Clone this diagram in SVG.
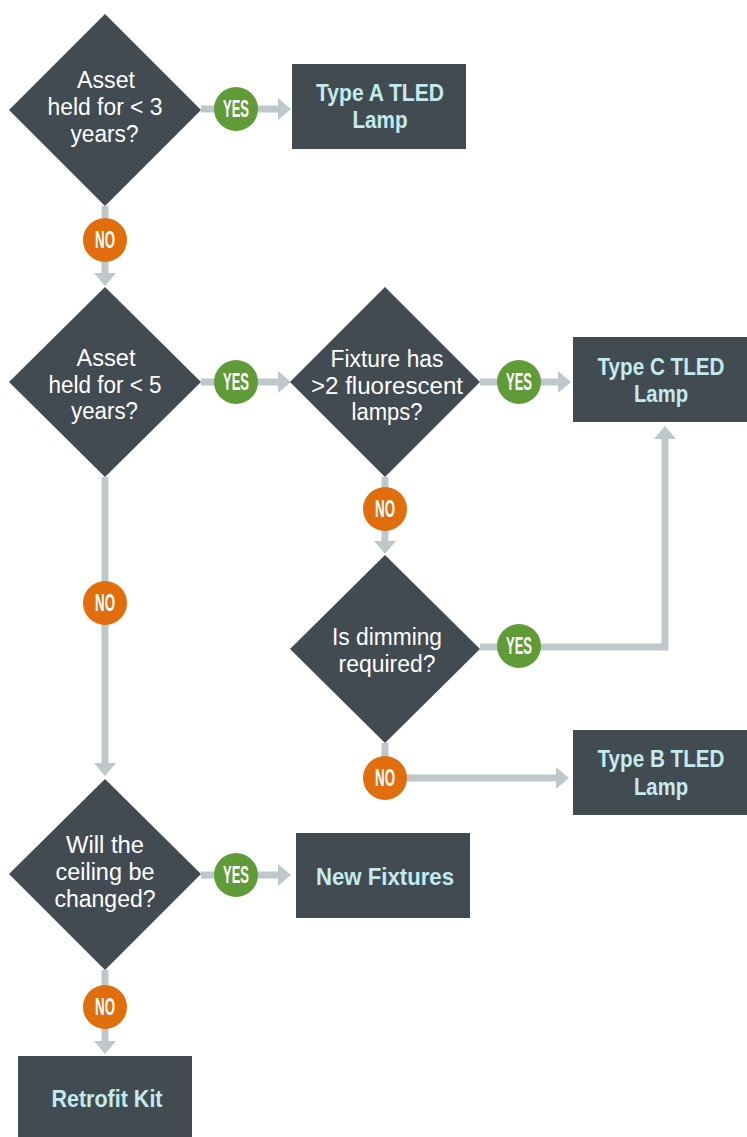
<svg xmlns="http://www.w3.org/2000/svg" width="747" height="1137" viewBox="0 0 747 1137">
<defs>
<style>
.shape{fill:#424a52}
.q{font-family:"Liberation Sans",Arial,sans-serif;font-size:23px;fill:#ffffff;text-anchor:middle}
.r{font-family:"Liberation Sans",Arial,sans-serif;font-size:24px;font-weight:bold;fill:#c3ebee;text-anchor:middle}
.ln{stroke:#bec8cb;stroke-width:7;fill:none}
.yes{fill:#5f9b36}
.no{fill:#e26d0c}
.lb{font-family:"Liberation Sans",Arial,sans-serif;font-size:23px;font-weight:bold;fill:#ffffff;text-anchor:middle}
</style>
<marker id="ah" markerUnits="userSpaceOnUse" markerWidth="13" markerHeight="22" refX="0" refY="11" orient="auto" viewBox="0 0 13 22">
<path d="M0,0 L13,11 L0,22 Z" fill="#bec8cb"/>
</marker>
</defs>
<rect width="747" height="1137" fill="#ffffff"/>

<g id="connectors">
<path class="ln" d="M201,109 H278" marker-end="url(#ah)"/>
<path class="ln" d="M105,206 V273" marker-end="url(#ah)"/>
<path class="ln" d="M201,382 H278" marker-end="url(#ah)"/>
<path class="ln" d="M480,382 H558" marker-end="url(#ah)"/>
<path class="ln" d="M385,477 V541" marker-end="url(#ah)"/>
<path class="ln" d="M480,647 H665 V439" marker-end="url(#ah)"/>
<path class="ln" d="M385,743 V778 H556" marker-end="url(#ah)"/>
<path class="ln" d="M105,477 V763" marker-end="url(#ah)"/>
<path class="ln" d="M201,875 H278" marker-end="url(#ah)"/>
<path class="ln" d="M105,970 V1041" marker-end="url(#ah)"/>
</g>

<g id="labels">
<circle class="yes" cx="236" cy="109" r="22"/><text class="lb" x="236" y="117" textLength="26" lengthAdjust="spacingAndGlyphs">YES</text>
<circle class="no" cx="105" cy="240" r="22"/><text class="lb" x="105" y="248" textLength="20" lengthAdjust="spacingAndGlyphs">NO</text>
<circle class="yes" cx="236" cy="382" r="22"/><text class="lb" x="236" y="390" textLength="26" lengthAdjust="spacingAndGlyphs">YES</text>
<circle class="no" cx="105" cy="603" r="22"/><text class="lb" x="105" y="611" textLength="20" lengthAdjust="spacingAndGlyphs">NO</text>
<circle class="yes" cx="519" cy="382" r="22"/><text class="lb" x="519" y="390" textLength="26" lengthAdjust="spacingAndGlyphs">YES</text>
<circle class="no" cx="385" cy="509" r="22"/><text class="lb" x="385" y="517" textLength="20" lengthAdjust="spacingAndGlyphs">NO</text>
<circle class="yes" cx="519" cy="646" r="22"/><text class="lb" x="519" y="654" textLength="26" lengthAdjust="spacingAndGlyphs">YES</text>
<circle class="no" cx="385" cy="778" r="22"/><text class="lb" x="385" y="786" textLength="20" lengthAdjust="spacingAndGlyphs">NO</text>
<circle class="yes" cx="236" cy="875" r="22"/><text class="lb" x="236" y="883" textLength="26" lengthAdjust="spacingAndGlyphs">YES</text>
<circle class="no" cx="105" cy="1007" r="22"/><text class="lb" x="105" y="1015" textLength="20" lengthAdjust="spacingAndGlyphs">NO</text>
</g>

<g id="q1">
<polygon class="shape" points="105,14 201,110 105,206 9,110"/>
<text class="q" x="106" y="88" textLength="58" lengthAdjust="spacingAndGlyphs">Asset</text>
<text class="q" x="105" y="115" textLength="115" lengthAdjust="spacingAndGlyphs">held for &lt; 3</text>
<text class="q" x="104.5" y="142" textLength="68" lengthAdjust="spacingAndGlyphs">years?</text>
</g>

<g id="typeA">
<rect class="shape" x="292" y="64" width="174" height="85"/>
<text class="r" x="380" y="101" textLength="128" lengthAdjust="spacingAndGlyphs">Type A TLED</text>
<text class="r" x="380" y="128" textLength="55" lengthAdjust="spacingAndGlyphs">Lamp</text>
</g>

<g id="q2">
<polygon class="shape" points="105,287 201,382 105,477 9,382"/>
<text class="q" x="106" y="366" textLength="59" lengthAdjust="spacingAndGlyphs">Asset</text>
<text class="q" x="105" y="393" textLength="113" lengthAdjust="spacingAndGlyphs">held for &lt; 5</text>
<text class="q" x="104.5" y="419" textLength="67" lengthAdjust="spacingAndGlyphs">years?</text>
</g>

<g id="q3">
<polygon class="shape" points="385,287 480,382 385,477 290,382"/>
<text class="q" x="387" y="367" textLength="113" lengthAdjust="spacingAndGlyphs">Fixture has</text>
<text class="q" x="387" y="394" textLength="152" lengthAdjust="spacingAndGlyphs">&gt;2 fluorescent</text>
<text class="q" x="387" y="420" textLength="71" lengthAdjust="spacingAndGlyphs">lamps?</text>
</g>

<g id="typeC">
<rect class="shape" x="573" y="337" width="174" height="85"/>
<text class="r" x="661" y="375" textLength="127" lengthAdjust="spacingAndGlyphs">Type C TLED</text>
<text class="r" x="661" y="402" textLength="54" lengthAdjust="spacingAndGlyphs">Lamp</text>
</g>

<g id="q4">
<polygon class="shape" points="385,555 480,649 385,743 290,649"/>
<text class="q" x="387" y="645" textLength="110" lengthAdjust="spacingAndGlyphs">Is dimming</text>
<text class="q" x="387" y="672" textLength="97" lengthAdjust="spacingAndGlyphs">required?</text>
</g>

<g id="typeB">
<rect class="shape" x="573" y="730" width="174" height="85"/>
<text class="r" x="661" y="767" textLength="127" lengthAdjust="spacingAndGlyphs">Type B TLED</text>
<text class="r" x="661" y="795" textLength="54" lengthAdjust="spacingAndGlyphs">Lamp</text>
</g>

<g id="q5">
<polygon class="shape" points="105,779 201,874 105,970 9,874"/>
<text class="q" x="105" y="853" textLength="78" lengthAdjust="spacingAndGlyphs">Will the</text>
<text class="q" x="105" y="880" textLength="99" lengthAdjust="spacingAndGlyphs">ceiling be</text>
<text class="q" x="105" y="907" textLength="101" lengthAdjust="spacingAndGlyphs">changed?</text>
</g>

<g id="newFixtures">
<rect class="shape" x="296" y="833" width="174" height="85"/>
<text class="r" x="385" y="885" textLength="138" lengthAdjust="spacingAndGlyphs">New Fixtures</text>
</g>

<g id="retrofitKit">
<rect class="shape" x="18" y="1056" width="174" height="81"/>
<text class="r" x="107" y="1107" textLength="111" lengthAdjust="spacingAndGlyphs">Retrofit Kit</text>
</g>
</svg>
